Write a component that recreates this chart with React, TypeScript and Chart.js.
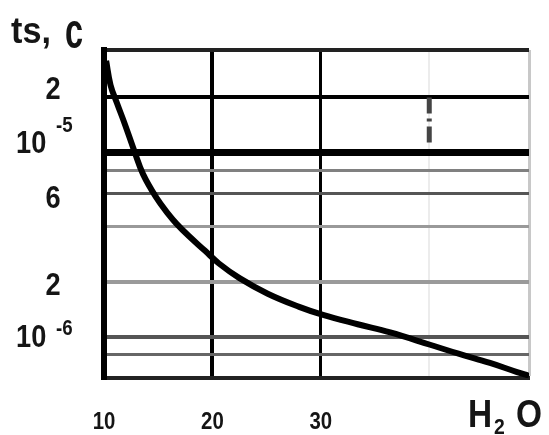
import React, { useEffect, useRef } from "react";
import { Chart, registerables } from "chart.js";

Chart.register(...registerables);

// ---- data ----
const waterContent = [10.2, 10.6, 11.2, 11.9, 12.8, 13.6, 14.8, 15.9, 16.7, 17.8, 19.3, 20.6, 22.5, 25.1, 28.0, 30.2, 33.4, 36.4, 40.0, 42.7, 45.6, 48.1, 49.2];
const relaxTime = [3.16e-5, 2.34e-5, 1.86e-5, 1.445e-5, 1.023e-5, 7.67e-6, 5.75e-6, 4.68e-6, 4.12e-6, 3.55e-6, 2.95e-6, 2.51e-6, 2.09e-6, 1.72e-6, 1.46e-6, 1.32e-6, 1.175e-6, 1.06e-6, 9.12e-7, 8.13e-7, 7.24e-7, 6.46e-7, 6.17e-7];

const xRange = [10, 49.2];
const yRange = [6.0e-7, 3.62e-5];
const xGridValues = [10, 20, 30, 40, 49.2];
const xTickValues = [10, 20, 30];
const xTickLabels = ["10", "20", "30"];
const yGridValues = [3.62e-5, 2e-5, 1e-5, 8e-6, 6e-6, 4e-6, 2e-6, 1e-6, 8e-7, 6.0e-7];
const yTickValues = [2e-5, 1e-5, 6e-6, 2e-6, 1e-6];
const yTickMain = ["2", "10", "6", "2", "10"];
const yTickSup = ["", "-5", "", "", "-6"];
const yAxisTitle = ["ts,", "c"];
const xAxisTitle = ["H", "2", "O"];

// ---- styles ----
const yGridStyle: Record<string, [string, number]> = {
  "0": ["#222", 4],
  "1": ["#000", 4],
  "2": ["#000", 7],
  "3": ["#808080", 3],
  "4": ["#555", 3],
  "5": ["#999", 3],
  "6": ["#9a9a9a", 4],
  "7": ["#555", 4],
  "8": ["#666", 3],
  "9": ["rgba(0,0,0,0)", 1],
};
const xGridStyle: Record<string, [string, number]> = {
  "0": ["rgba(0,0,0,0)", 1],
  "1": ["#000", 4],
  "2": ["#000", 3],
  "3": ["#ececec", 2],
  "4": ["#c8c8c8", 3],
};
const yLabelShift = [2, 0, 14, 13, 10];
const ySupRaise = [0, 21, 0, 0, 12];

const FAMILY = '"Liberation Sans", Arial, "DejaVu Sans", sans-serif';

function drawText(ctx: CanvasRenderingContext2D, s: string, x: number, y: number, font: string, sx: number, align: "left" | "center" = "left") {
  ctx.save();
  ctx.font = font;
  ctx.textBaseline = "alphabetic";
  ctx.textAlign = "left";
  ctx.translate(x, y);
  ctx.scale(sx, 1);
  const w = ctx.measureText(s).width;
  ctx.fillText(s, align === "center" ? -w / 2 : 0, 0);
  ctx.restore();
}

const textPlugin = {
  id: "scanText",
  beforeDatasetsDraw(chart: any) {
    const ctx = chart.ctx as CanvasRenderingContext2D;
    const xs = chart.scales.x;
    const ys = chart.scales.y;
    // dashed fragment of the 40 grid line
    ctx.save();
    ctx.strokeStyle = "#444";
    ctx.lineWidth = 5;
    ctx.setLineDash([16, 5, 3, 5, 16, 40]);
    const px = xs.getPixelForValue(40);
    ctx.beginPath();
    ctx.moveTo(px, ys.getPixelForValue(2e-5));
    ctx.lineTo(px, ys.getPixelForValue(1.05e-5));
    ctx.stroke();
    ctx.restore();
  },
  afterDraw(chart: any) {
    const ctx = chart.ctx as CanvasRenderingContext2D;
    const xs = chart.scales.x;
    const ys = chart.scales.y;
    ctx.save();
    ctx.fillStyle = "#151515";
    // y tick labels
    yTickValues.forEach((v, i) => {
      const base = ys.getPixelForValue(v) + yLabelShift[i];
      if (yTickSup[i]) {
        drawText(ctx, yTickMain[i], 16, base, `bold 32px ${FAMILY}`, 0.85);
        drawText(ctx, yTickSup[i], 56, base - ySupRaise[i], `bold 22px ${FAMILY}`, 0.85);
      } else {
        drawText(ctx, yTickMain[i], 53, base, `bold 32px ${FAMILY}`, 0.85, "center");
      }
    });
    // x tick labels
    xTickValues.forEach((v, i) => {
      drawText(ctx, xTickLabels[i], xs.getPixelForValue(v), 429, `bold 24px ${FAMILY}`, 0.85, "center");
    });
    // axis titles
    drawText(ctx, yAxisTitle[0], 11, 43, `bold 36px ${FAMILY}`, 0.95);
    drawText(ctx, yAxisTitle[1], 65, 48, `bold 50px ${FAMILY}`, 0.65);
    drawText(ctx, xAxisTitle[0], 468, 427, `bold 38px ${FAMILY}`, 0.88);
    drawText(ctx, xAxisTitle[1], 494, 434, `bold 22px ${FAMILY}`, 0.88);
    drawText(ctx, xAxisTitle[2], 516, 427, `bold 38px ${FAMILY}`, 0.88);
    ctx.restore();
  },
};

export default function App() {
  const ref = useRef<HTMLCanvasElement | null>(null);
  useEffect(() => {
    if (!ref.current) return;
    const chart = new Chart(ref.current, {
      type: "line",
      data: {
        datasets: [
          {
            data: waterContent.map((x, i) => ({ x, y: relaxTime[i] })),
            borderColor: "#000",
            borderWidth: 6,
            pointRadius: 0,
            tension: 0.4,
            fill: false,
          },
        ],
      },
      options: {
        responsive: false,
        animation: false,
        events: [],
        layout: { padding: { top: 50, right: 20, left: 0, bottom: 0 } },
        plugins: { legend: { display: false }, tooltip: { enabled: false }, title: { display: false } },
        scales: {
          x: {
            type: "linear",
            min: xRange[0],
            max: xRange[1],
            afterBuildTicks: (s: any) => {
              s.ticks = xGridValues.map((value) => ({ value }));
            },
            afterFit: (s: any) => {
              s.height = 57;
            },
            ticks: { display: false },
            grid: {
              drawTicks: false,
              color: (c: any) => (xGridStyle[String(c.index)] || ["#000", 1])[0],
              lineWidth: (c: any) => (xGridStyle[String(c.index)] || ["#000", 1])[1],
            },
            border: { display: true, color: "#222", width: 4 },
          },
          y: {
            type: "logarithmic",
            min: yRange[0],
            max: yRange[1],
            afterBuildTicks: (s: any) => {
              s.ticks = yGridValues.map((value) => ({ value }));
            },
            afterFit: (s: any) => {
              s.width = 104;
            },
            ticks: { display: false },
            grid: {
              drawTicks: false,
              color: (c: any) => (yGridStyle[String(c.index)] || ["#000", 1])[0],
              lineWidth: (c: any) => (yGridStyle[String(c.index)] || ["#000", 1])[1],
            },
            border: { display: true, color: "#000", width: 6 },
          },
        },
      } as any,
      plugins: [textPlugin],
    });
    return () => chart.destroy();
  }, []);
  return (
    <div style={{ position: "absolute", left: 0, top: 0, width: 549, height: 435, background: "#fff" }}>
      <canvas ref={ref} width={549} height={435} style={{ display: "block" }} />
    </div>
  );
}
